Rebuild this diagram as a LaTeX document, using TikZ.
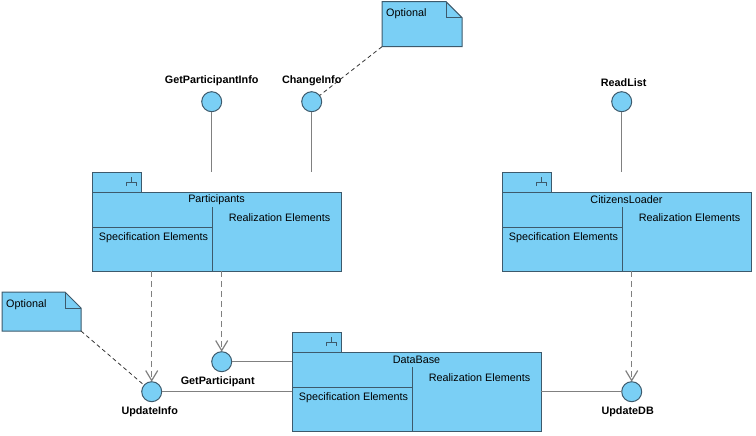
\documentclass[tikz,border=0pt]{standalone}
\usepackage{fontspec}
\setmainfont{Liberation Sans}
\usetikzlibrary{calc,positioning,arrows.meta}
\definecolor{pkgfill}{HTML}{7ACFF5}
\definecolor{pkgline}{HTML}{3D5A6C}
\definecolor{conngray}{HTML}{808080}

\begin{document}
\begin{tikzpicture}[x=1pt, y=-1pt, font=\fontsize{10.8}{13}\selectfont,
    pkg/.style={draw=pkgline, fill=pkgfill, line width=1pt, minimum width=249pt, minimum height=79pt, inner sep=0pt, outer sep=0pt},
    pkgtab/.style={pkg, minimum width=49pt, minimum height=20pt},
    pkgdiv/.style={draw=pkgline, line width=1pt},
    pkgtxt/.style={inner sep=0pt},
    iface/.style={circle, draw=pkgline, fill=pkgfill, line width=1pt, minimum size=20pt, inner sep=0pt, outer sep=0pt},
    ilbl/.style={font=\fontsize{10.8}{13}\selectfont\bfseries},
    note/.style={minimum width=80pt, inner sep=0pt, outer sep=0pt},
    notebox/.style={draw=pkgline, fill=pkgfill, line width=1pt},
    notetxt/.style={inner sep=0pt},
    link/.style={draw=conngray, line width=1.5pt},
    dep/.style={draw=conngray, line width=1.2pt, dash pattern=on 6pt off 4pt, -{Straight Barb[length=10pt,width=12pt]}},
    anchorline/.style={draw=black!80, line width=0.8pt, dash pattern=on 4pt off 3pt}]

    \useasboundingbox (0,0) rectangle (756,436);

    % Interfaces
    \node[iface] (gpi) at (211.7,101.7) {};
    \node[iface] (chg) at (311.7,101.7) {};
    \node[iface] (rl) at (621.7,101.7) {};
    \node[iface] (gp) at (221.7,361.7) {};
    \node[iface] (upd) at (151.7,391.7) {};
    \node[iface] (udb) at (631.7,391.7) {};

    \node[ilbl, above=2pt of gpi] (gpi-lbl) {GetParticipantInfo};
    \node[ilbl, above=2pt of chg] (chg-lbl) {ChangeInfo};
    \node[ilbl, above=2pt of rl, xshift=2pt] (rl-lbl) {ReadList};
    \node[ilbl, below=1pt of gp, xshift=-4pt] (gp-lbl) {GetParticipant};
    \node[ilbl, below=1pt of upd, xshift=-2pt] (upd-lbl) {UpdateInfo};
    \node[ilbl, below=1pt of udb, xshift=-4pt] (udb-lbl) {UpdateDB};

    % Packages
    \foreach \n/\x/\y/\t in {part/216.5/231.5/Participants, cit/626.5/231.5/CitizensLoader, db/416.5/391.5/DataBase} {
        \node[pkg] (\n) at (\x,\y) {};
        \node[pkgtab, anchor=south west] (\n-tab) at (\n.north west) {};
        \draw[pkgdiv] ($(\n.north west)+(120,15)$) -- ($(\n.south west)+(120,0)$);
        \draw[pkgdiv] ($(\n.north west)+(0,35)$) -- ($(\n.north west)+(120,35)$);
        \draw[pkgdiv] ($(\n-tab.north west)+(39,5)$) -- ++(0,5)
            ($(\n-tab.north west)+(34,14)$) -- ++(0,-4) -- ++(10,0) -- ++(0,4);
        \node[pkgtxt] (\n-title) at ($(\n.north)+(0,8)$) {\t};
        \node[pkgtxt] (\n-real) at ($(\n.north west)+(187.5,26)$) {Realization Elements};
        \node[pkgtxt] (\n-spec) at ($(\n.north west)+(61.5,46)$) {Specification Elements};
    }

    % Lollipops
    \draw[link] (gpi) -- (gpi |- part-tab.north);
    \draw[link] (chg) -- (chg |- part-tab.north);
    \draw[link] (rl) -- (rl |- cit-tab.north);

    % Usages
    \draw[dep] (upd |- part.south) -- (upd);
    \draw[dep] (gp |- part.south) -- (gp);
    \draw[dep] (udb |- cit.south) -- (udb);

    % Provided by DataBase
    \draw[link] (gp) -- (gp -| db.west);
    \draw[link] (upd) -- (upd -| db.west);
    \draw[link] (udb) -- (udb -| db.east);

    % Notes
    \node[note, minimum height=45pt] (opt1) at (422,24.2) {};
    \node[note, minimum height=39pt, minimum width=79pt] (opt2) at (41.5,311.5) {};
    \foreach \n in {opt1,opt2} {
        \draw[notebox] (\n.north west) -- ($(\n.north east)+(-16,0)$) -- ($(\n.north east)+(0,16)$)
            -- (\n.south east) -- (\n.south west) -- cycle;
        \draw[notebox, fill=none] ($(\n.north east)+(-16,0)$) -- ++(0,16) -- ++(16,0);
        \node[notetxt, anchor=north west] (\n-txt) at ($(\n.north west)+(4,7)$) {Optional};
    }
    \draw[anchorline] (opt1.south west) -- (chg);
    \draw[anchorline] (opt2.south east) -- (upd);

\end{tikzpicture}
\end{document}
